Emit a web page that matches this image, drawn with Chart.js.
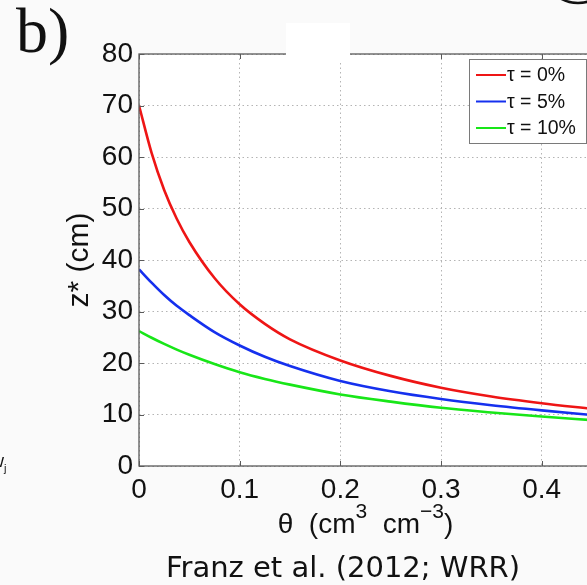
<!DOCTYPE html>
<html>
<head>
<meta charset="utf-8">
<script src="https://cdn.jsdelivr.net/npm/chart.js@4"></script>
<style>
  html, body { margin: 0; padding: 0; background: #fafafa; overflow: hidden; }
  #wrap { position: relative; width: 587px; height: 585px; overflow: hidden; }
  #chartZ { position: absolute; left: 0; top: 0; }
</style>
</head>
<body>
<div id="wrap"><canvas id="chartZ" width="600" height="585"></canvas></div>
<script>
// volumetric water content (cm3 cm-3) and depth z* (cm) for each tau
const theta = [0, 0.0125, 0.025, 0.0375, 0.05, 0.075, 0.1, 0.125, 0.15, 0.2, 0.25, 0.3, 0.35, 0.4, 0.45];
const zTau0 = [70, 60.8, 53.6, 48.0, 43.5, 36.5, 31.4, 27.6, 24.6, 20.5, 17.5, 15.2, 13.5, 12.2, 11.1];
const zTau5 = [38.2, 35.6, 33.2, 31.1, 29.3, 26.0, 23.4, 21.2, 19.4, 16.5, 14.5, 13.0, 11.8, 10.8, 9.9];
const zTau10 = [26.2, 24.9, 23.7, 22.6, 21.6, 19.8, 18.2, 16.9, 15.8, 13.9, 12.5, 11.3, 10.4, 9.6, 8.9];

const seriesLabels = ["τ = 0%", "τ = 5%", "τ = 10%"];
const seriesColors = ["#ee1515", "#1530ee", "#18e618"];
const xTicks = [0, 0.1, 0.2, 0.3, 0.4];
const yTicks = [0, 10, 20, 30, 40, 50, 60, 70, 80];

const FONT = "'Liberation Sans', Arial, sans-serif";

function toPoints(ys) {
    return theta.map(function (t, i) { return { x: t, y: ys[i] }; });
}

// plot frame, inward ticks, legend box and extra text
const decor = {
    id: "decor",
    beforeDraw(chart) {
        const a = chart.chartArea;
        const ctx = chart.ctx;
        ctx.save();
        ctx.fillStyle = "#ffffff";
        ctx.fillRect(a.left, a.top, a.right - a.left, a.bottom - a.top);
        ctx.restore();
    },
    afterDraw(chart) {
        const ctx = chart.ctx;
        const a = chart.chartArea;
        const x = chart.scales.x;
        const y = chart.scales.y;
        ctx.save();
        ctx.setLineDash([]);

        // box around the axes
        ctx.strokeStyle = "#5a5a5a";
        ctx.lineWidth = 1.3;
        ctx.strokeRect(a.left, a.top, a.right - a.left, a.bottom - a.top);

        // small inward ticks
        ctx.lineWidth = 1;
        ctx.beginPath();
        x.ticks.forEach(function (t) {
            const px = Math.round(x.getPixelForValue(t.value)) + 0.5;
            ctx.moveTo(px, a.bottom); ctx.lineTo(px, a.bottom - 5);
            ctx.moveTo(px, a.top); ctx.lineTo(px, a.top + 5);
        });
        y.ticks.forEach(function (t) {
            const py = Math.round(y.getPixelForValue(t.value)) + 0.5;
            ctx.moveTo(a.left, py); ctx.lineTo(a.left + 5, py);
            ctx.moveTo(a.right, py); ctx.lineTo(a.right - 5, py);
        });
        ctx.stroke();

        // legend
        const lw = 117, lh = 84;
        const lx = a.right - 6 - lw, ly = a.top + 5;
        ctx.fillStyle = "#ffffff";
        ctx.fillRect(lx, ly, lw, lh);
        ctx.strokeStyle = "#7a7a7a";
        ctx.lineWidth = 1;
        ctx.strokeRect(lx + 0.5, ly + 0.5, lw, lh);
        ctx.font = "19.5px " + FONT;
        ctx.textBaseline = "middle";
        ctx.textAlign = "left";
        chart.data.datasets.forEach(function (ds, i) {
            const ry = ly + 16 + i * 26.5;
            ctx.strokeStyle = ds.borderColor;
            ctx.lineWidth = 2;
            ctx.beginPath();
            ctx.moveTo(lx + 7, ry);
            ctx.lineTo(lx + 37, ry);
            ctx.stroke();
            ctx.fillStyle = "#111";
            ctx.fillText(ds.label, lx + 38, ry + 1);
        });

        // x axis title with superscripts
        const parts = [
            { t: "θ  (cm", f: "28px " + FONT, dy: 0 },
            { t: "3", f: "21px " + FONT, dy: -15 },
            { t: "  cm", f: "28px " + FONT, dy: 0 },
            { t: "−3", f: "21px " + FONT, dy: -15 },
            { t: ")", f: "28px " + FONT, dy: 0 }
        ];
        let total = 0;
        parts.forEach(function (p) { ctx.font = p.f; p.w = ctx.measureText(p.t).width; total += p.w; });
        let cx = (a.left + a.right) / 2 - total / 2;
        ctx.fillStyle = "#111";
        ctx.textBaseline = "alphabetic";
        parts.forEach(function (p) {
            ctx.font = p.f;
            ctx.fillText(p.t, cx, 533 + p.dy);
            cx += p.w;
        });

        // citation line
        ctx.font = "29px 'DejaVu Sans', sans-serif";
        ctx.textAlign = "center";
        ctx.fillText("Franz et al. (2012; WRR)", 343, 577);

        // panel letter
        ctx.font = "64px 'Liberation Serif', 'Times New Roman', serif";
        ctx.textAlign = "left";
        ctx.fillText("b)", 16, 52);

        // leftover label at the left edge
        ctx.font = "18px " + FONT;
        ctx.fillText("w", -9, 467);
        ctx.font = "11px " + FONT;
        ctx.fillText("j", 4, 472);

        // blank patch over the top frame and arc of a marker ring
        ctx.fillStyle = "#ffffff";
        ctx.fillRect(286, 23, 64, 40);
        ctx.strokeStyle = "#111";
        ctx.lineWidth = 2.5;
        ctx.beginPath();
        ctx.ellipse(578, -30, 34, 33, 0, 0, Math.PI * 2);
        ctx.stroke();
        ctx.restore();
    }
};

const dataZ = {
    datasets: [
        { label: seriesLabels[0], data: toPoints(zTau0), borderColor: seriesColors[0] },
        { label: seriesLabels[1], data: toPoints(zTau5), borderColor: seriesColors[1] },
        { label: seriesLabels[2], data: toPoints(zTau10), borderColor: seriesColors[2] }
    ]
};

const configZ = {
    type: "scatter",
    data: dataZ,
    options: {
        responsive: false,
        animation: false,
        devicePixelRatio: 1,
        showLine: true,
        elements: {
            point: { radius: 0 },
            line: { borderWidth: 2.6, cubicInterpolationMode: "monotone", fill: false }
        },
        layout: { padding: { left: 0, top: 54, right: 8, bottom: 0 } },
        plugins: {
            legend: { display: false },
            tooltip: { enabled: false }
        },
        scales: {
            x: {
                type: "linear",
                min: 0,
                max: 0.45,
                afterBuildTicks: function (scale) {
                    scale.ticks = xTicks.map(function (v) { return { value: v }; });
                },
                afterFit: function (scale) { scale.height = 119; },
                grid: { color: "#b4b4b4", lineWidth: 1, drawTicks: false },
                border: { display: false, dash: [1.5, 3] },
                ticks: {
                    padding: 7,
                    color: "#111",
                    font: { size: 28, family: FONT },
                    maxRotation: 0,
                    callback: function (v) { return String(Number(v.toFixed(2))); }
                }
            },
            y: {
                type: "linear",
                min: 0,
                max: 80,
                afterBuildTicks: function (scale) {
                    scale.ticks = yTicks.map(function (v) { return { value: v }; });
                },
                afterFit: function (scale) { scale.width = 139; },
                grid: { color: "#b4b4b4", lineWidth: 1, drawTicks: false },
                border: { display: false, dash: [1.5, 3] },
                title: {
                    display: true,
                    text: "z* (cm)",
                    color: "#111",
                    font: { size: 30, family: FONT },
                    padding: { top: 62, bottom: 0 }
                },
                ticks: {
                    padding: 6,
                    color: "#111",
                    font: { size: 28, family: FONT }
                }
            }
        }
    },
    plugins: [decor]
};

var chartZ = new Chart(document.getElementById("chartZ"), configZ);
</script>
</body>
</html>
